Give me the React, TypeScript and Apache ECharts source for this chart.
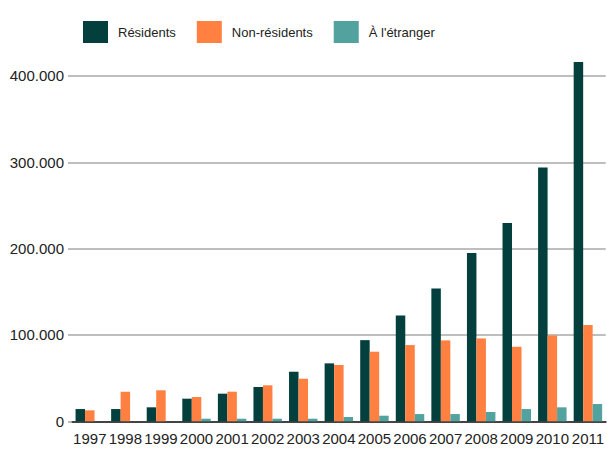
import React, { useEffect, useRef } from "react";
import * as echarts from "echarts";

// Years on the category axis
const years = [
  "1997", "1998", "1999", "2000", "2001", "2002", "2003", "2004",
  "2005", "2006", "2007", "2008", "2009", "2010", "2011",
];

// Series values
const residents = [
  14200, 14200, 16200, 26200, 32000, 39700, 57400, 67100,
  94000, 122500, 153800, 195000, 229800, 294000, 416000,
];
const nonResidents = [
  12700, 34300, 35900, 28100, 34300, 41700, 49300, 65200,
  80600, 88300, 93700, 96000, 86300, 99500, 111500,
];
const abroad = [
  0, 0, 0, 3000, 3000, 3000, 3000, 5000,
  6500, 8400, 8400, 10800, 14200, 16200, 20000,
];

const seriesNames = ["Résidents", "Non-résidents", "À l'étranger"];
const seriesColors = ["#033f3d", "#ff8040", "#52a3a0"];

// Y-axis ticks
const yTicks = [0, 100000, 200000, 300000, 400000];

const FONT = "'Liberation Sans', Arial, sans-serif";

function formatThousands(v: number): string {
  return String(v).replace(/\B(?=(\d{3})+(?!\d))/g, ".");
}

export default function App() {
  const ref = useRef<HTMLDivElement>(null);

  useEffect(() => {
    if (!ref.current) return;
    const chart = echarts.init(ref.current, undefined, { renderer: "svg" });
    const data = [residents, nonResidents, abroad];
    chart.setOption({
      animation: false,
      backgroundColor: "#ffffff",
      legend: {
        left: 78,
        top: 16,
        itemWidth: 25,
        itemHeight: 22,
        itemGap: 21,
        icon: "rect",
        textStyle: { fontFamily: FONT, fontSize: 13, color: "#222", padding: [0, 0, 0, 5] },
        data: seriesNames,
      },
      grid: { left: 72, right: 0, top: 41.4, bottom: 27.7, containLabel: false },
      xAxis: {
        type: "category",
        data: years,
        axisLine: { lineStyle: { color: "#444", width: 2 } },
        axisTick: { show: false },
        axisLabel: {
          interval: 0,
          margin: 10,
          fontFamily: FONT,
          fontSize: 15,
          color: "#222",
        },
      },
      yAxis: {
        type: "value",
        min: yTicks[0],
        max: 440000,
        interval: yTicks[1] - yTicks[0],
        axisLine: { show: false },
        axisTick: { show: true, length: 4, lineStyle: { color: "#a8a8a8", width: 1.5 } },
        splitLine: { showMaxLine: false, lineStyle: { color: "#a8a8a8", width: 1.5 } },
        axisLabel: {
          showMaxLabel: false,
          margin: 8,
          fontFamily: FONT,
          fontSize: 15,
          color: "#222",
          formatter: (v: number) => (yTicks.includes(v) ? formatThousands(v) : ""),
        },
      },
      series: seriesNames.map((name, i) => ({
        name,
        type: "bar",
        data: data[i],
        barGap: "0%",
        barCategoryGap: "20%",
        itemStyle: { color: seriesColors[i] },
      })),
    });
    return () => chart.dispose();
  }, []);

  return <div ref={ref} style={{ width: 607, height: 449, position: "absolute", left: 0, top: 0 }} />;
}
